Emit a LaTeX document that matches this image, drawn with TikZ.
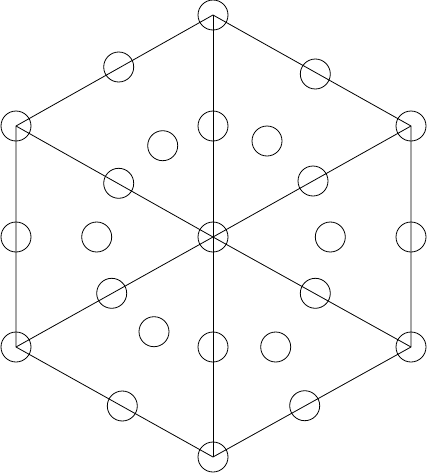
\documentclass[tikz,border=0pt]{standalone}
\begin{document}
\begin{tikzpicture}[x=1pt,y=-1pt,
  site/.style={circle,draw,line width=0.8pt,minimum size=30pt,inner sep=0pt},
  edge/.style={line width=0.8pt}]
\useasboundingbox (0,0) rectangle (427,474);
% vertices
\node[site] (T)  at (213,15) {};
\node[site] (UR) at (411,126) {};
\node[site] (LR) at (411,347) {};
\node[site] (B)  at (213,457) {};
\node[site] (LL) at (16,347) {};
\node[site] (UL) at (16,126) {};
\node[site] (C)  at (213,237) {};
% edge midpoints
\node[site] (e1) at (118.7,67) {};
\node[site] (e2) at (315.3,74) {};
\node[site] (e3) at (411,237) {};
\node[site] (e4) at (304.7,405.7) {};
\node[site] (e5) at (122.3,406) {};
\node[site] (e6) at (16,237) {};
% spoke midpoints
\node[site] (s1) at (213,126) {};
\node[site] (s2) at (313,181) {};
\node[site] (s3) at (315.3,293.3) {};
\node[site] (s4) at (213,347) {};
\node[site] (s5) at (111.7,293.3) {};
\node[site] (s6) at (118.7,183.3) {};
% inner sites
\node[site] (f1) at (162.7,145.7) {};
\node[site] (f2) at (267,141) {};
\node[site] (f3) at (330.3,237) {};
\node[site] (f4) at (275.7,347) {};
\node[site] (f5) at (154,331.7) {};
\node[site] (f6) at (96.7,237) {};
% hexagon
\draw[edge] (T.center) -- (UR.center) -- (LR.center) -- (B.center) -- (LL.center) -- (UL.center) -- cycle;
% spokes
\foreach \v in {T,UR,LR,B,LL,UL} \draw[edge] (C.center) -- (\v.center);
\end{tikzpicture}
\end{document}
